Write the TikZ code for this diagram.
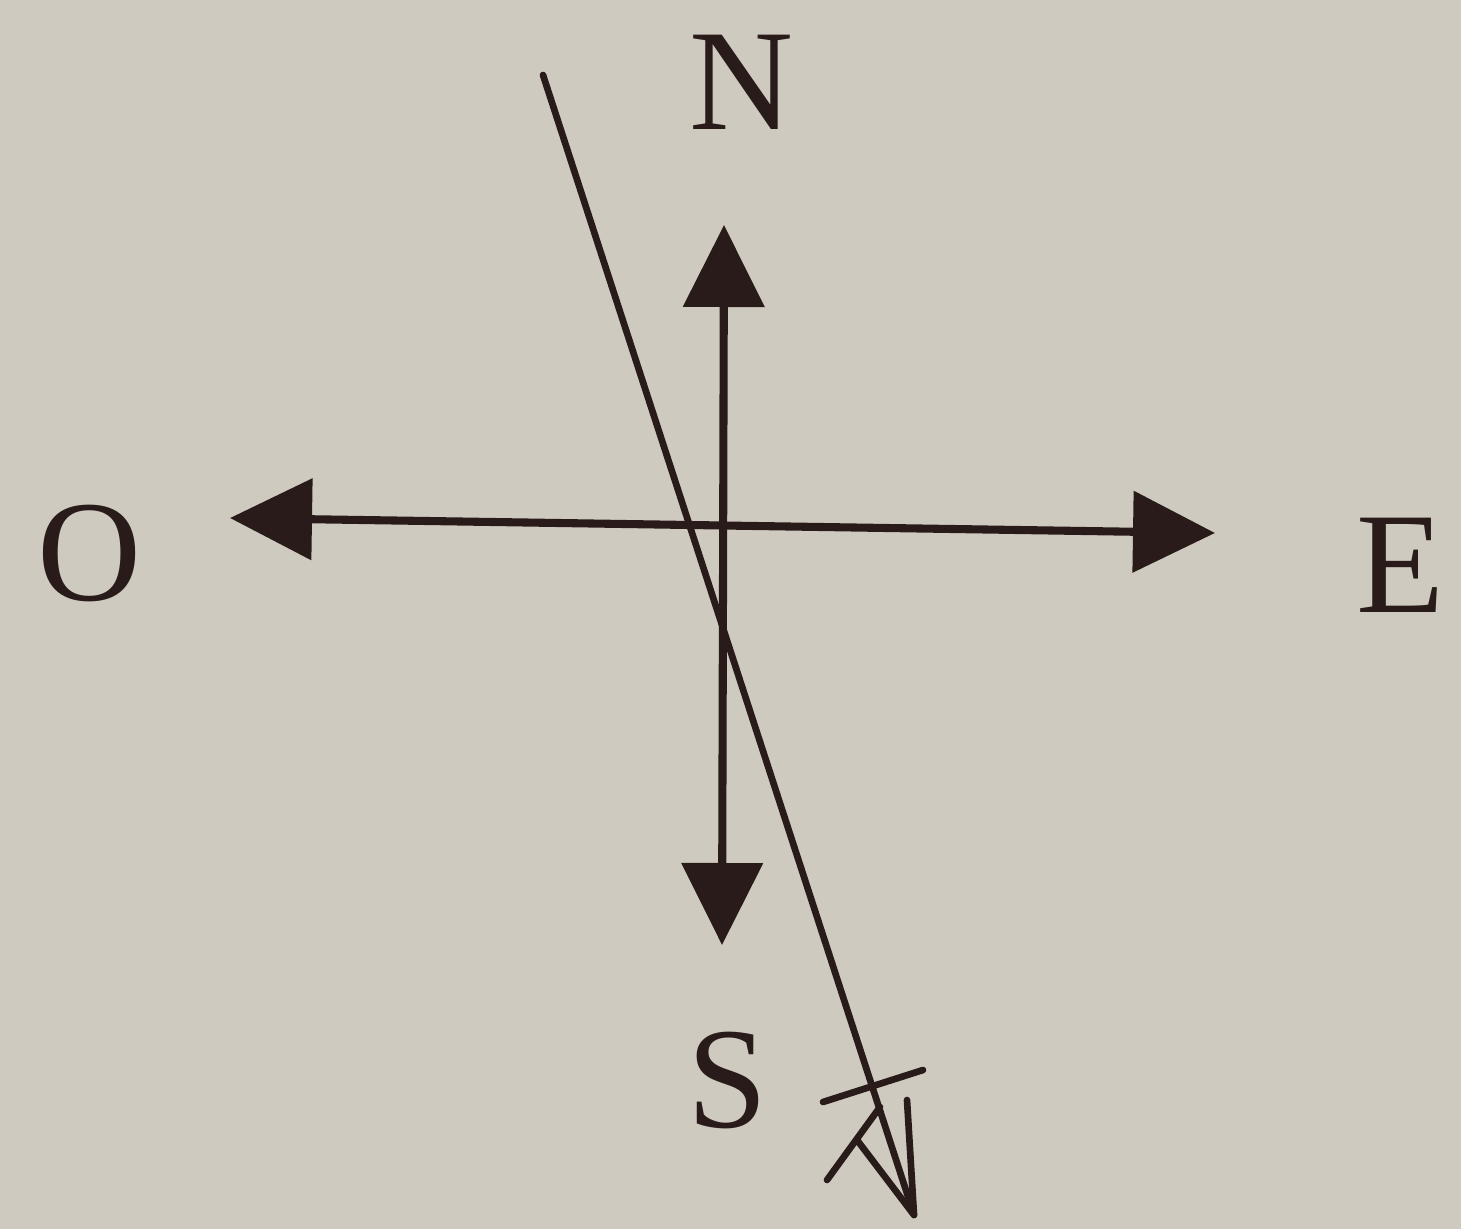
\documentclass[tikz,border=0pt]{standalone}
\usepackage{fontspec}
\setmainfont{Liberation Serif}
\usetikzlibrary{arrows.meta, positioning}
\definecolor{paper}{RGB}{207,202,192}
\definecolor{ink}{RGB}{40,27,25}

\begin{document}
\begin{tikzpicture}[
			compass/.style={
				{Triangle[length=8.2mm, width=8mm]}-{Triangle[length=8.2mm, width=8mm]},
				draw=ink,
				line width=2.3pt
			},
			pencil/.style={
				draw=ink,
				line width=1.9pt,
				line cap=round,
				line join=round
			},
			letter/.style={
				font=\fontsize{41}{48}\selectfont,
				text=ink,
				inner sep=0pt,
				anchor=base
			}
			]
			
			% paper, fixes the size
			\fill[paper] (0,0) rectangle (14.61,12.29);
			\useasboundingbox (0,0) rectangle (14.61,12.29);
			
			% Arrow ends of the cross
			\coordinate (ntip) at (7.24,10.04);
			\coordinate (stip) at (7.22,2.84);
			\coordinate (otip) at (2.30,7.11);
			\coordinate (etip) at (12.15,6.96);
			
			% Cross
			\draw[compass] (stip) -- (ntip);
			\draw[compass] (etip) -- (otip);
			
			% Letters
			\node[letter] (nlabel) at (7.42,10.99) {N};
			\node[letter] (slabel) at (7.28,1.02) {S};
			\node[letter] (olabel) at (0.90,6.29) {O};
			\node[letter] (elabel) at (14.00,6.17) {E};
			
			% Hand drawn line
			\coordinate (start) at (5.43,11.54);
			\coordinate (tip) at (9.14,0.14);
			\draw[pencil] (start) -- (tip);
			
			% its scribbled head
			\coordinate (vleft) at (8.57,0.89);
			\coordinate (vright) at (9.07,1.29);
			\draw[pencil] (vleft) -- (tip) -- (vright);
			\coordinate (s1) at (8.23,1.27);
			\coordinate (s2) at (9.23,1.59);
			\coordinate (s3) at (8.27,0.49);
			\coordinate (s4) at (8.80,1.22);
			\draw[pencil] (s1) -- (s2);
			\draw[pencil] (s3) -- (s4);
			
		\end{tikzpicture}
\end{document}
